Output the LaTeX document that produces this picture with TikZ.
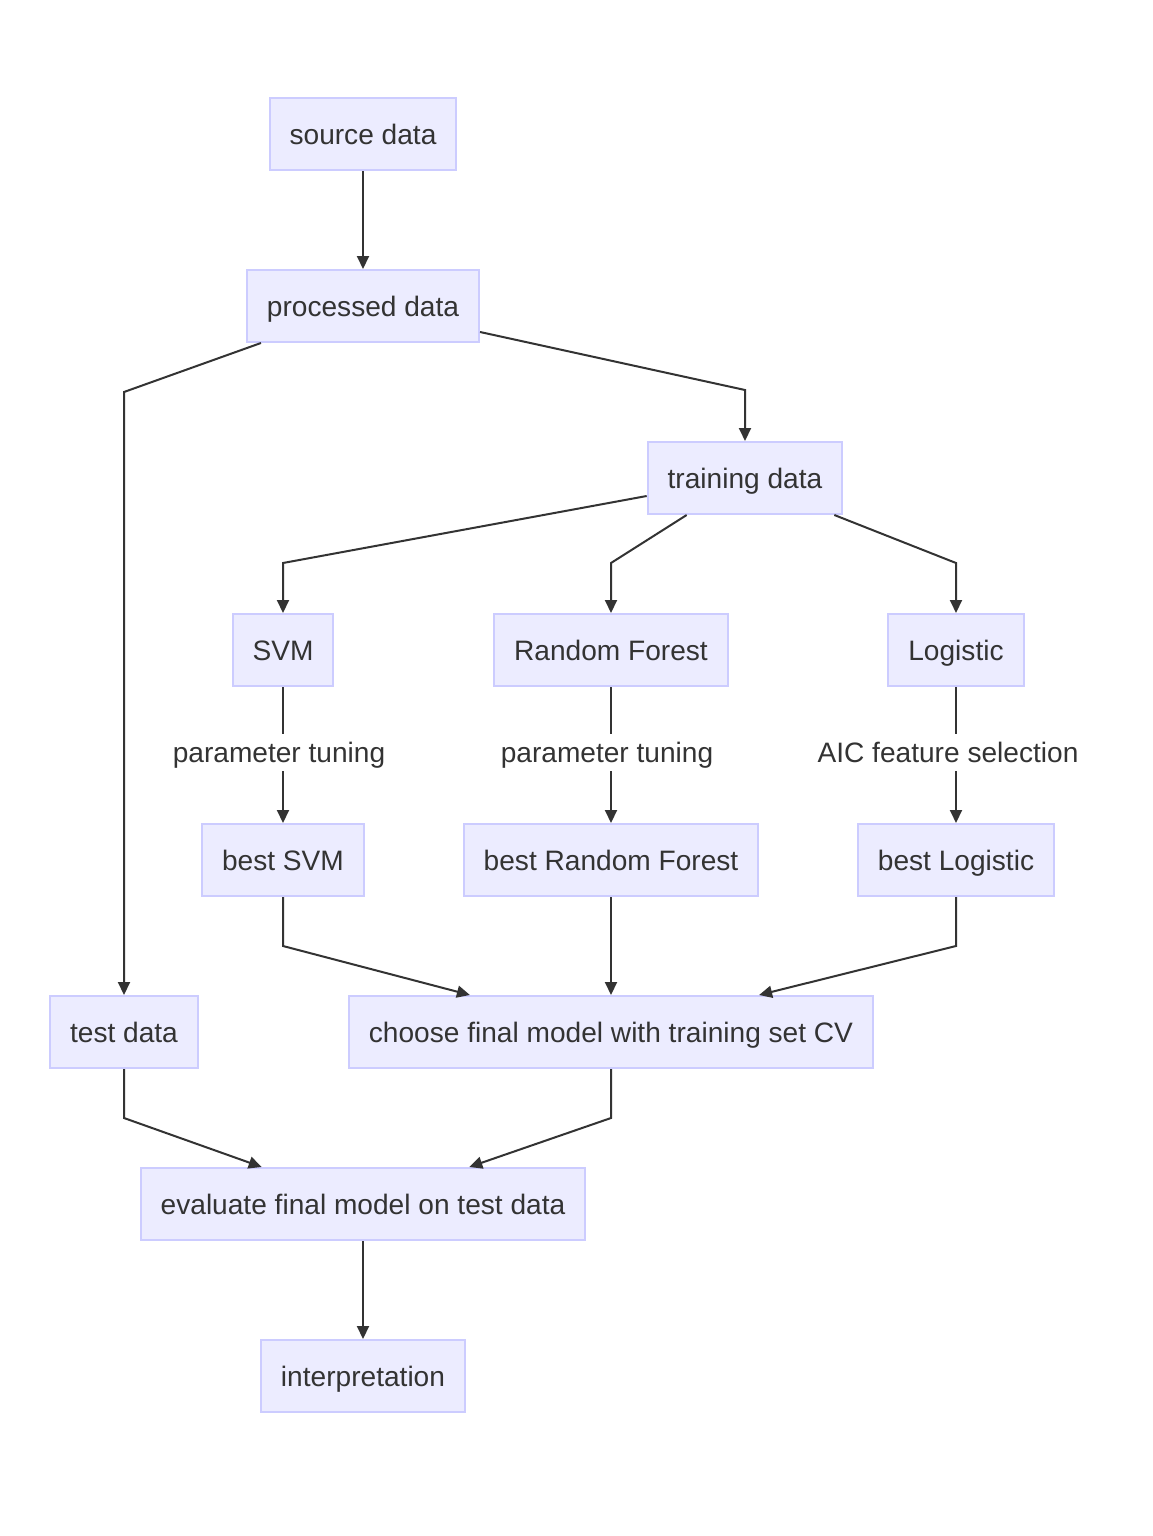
\documentclass[tikz,border=0pt]{standalone}
\usepackage{fontspec}
\setmainfont{Liberation Sans}
\usetikzlibrary{arrows.meta,calc}
\definecolor{nodefill}{HTML}{ECECFF}
\definecolor{nodeborder}{HTML}{CCCCFF}
\definecolor{ink}{HTML}{333333}
\tikzset{
  box/.style={draw=nodeborder, fill=nodefill, line width=2pt, text=ink,
    minimum height=72pt, inner xsep=20pt, inner ysep=0pt,
    text height=21pt, text depth=0pt,
    font=\fontsize{28.1}{33}\selectfont},
  lbl/.style={fill=white, text=ink, inner xsep=2pt, inner ysep=8pt,
    text height=21pt, text depth=0pt, yshift=3pt,
    font=\fontsize{28.1}{33}\selectfont},
  conn/.style={draw=ink, line width=2pt, -{Triangle[length=13pt,width=12pt]}},
}
\begin{document}
\begin{tikzpicture}[x=1pt,y=-1pt]
\useasboundingbox (0,0) rectangle (1152,1536);
\node[box] (src) at (363,134) {source data};
\node[box] (proc) at (363,306) {processed data};
\node[box] (train) at (745,478) {training data};
\node[box] (svm) at (283,650) {SVM};
\node[box] (rf) at (611,650) {Random Forest};
\node[box] (log) at (956,650) {Logistic};
\node[box] (bsvm) at (283,860) {best SVM};
\node[box] (brf) at (611,860) {best Random Forest};
\node[box] (blog) at (956,860) {best Logistic};
\node[box] (test) at (124,1032) {test data};
\node[box] (choose) at (611,1032) {choose final model with training set CV};
\node[box] (eval) at (363,1204) {evaluate final model on test data};
\node[box] (interp) at (363,1376) {interpretation};

\draw[conn] (src) -- (proc);
\draw[conn] ($(proc.south west)+(15,0)$) -- (124,392) -- (test.north);
\draw[conn] ($(proc.east)+(0,26)$) -- (745,390) -- (train.north);
\draw[conn] ($(train.west)+(0,18)$) -- (283,563) -- (svm.north);
\draw[conn] ($(train.south west)+(40,0)$) -- (611,563) -- (rf.north);
\draw[conn] ($(train.south east)+(-9,0)$) -- (956,563) -- (log.north);
\draw[conn] (svm) -- node[lbl, xshift=-4pt] {parameter tuning} (bsvm);
\draw[conn] (rf) -- node[lbl, xshift=-4pt] {parameter tuning} (brf);
\draw[conn] (log) -- node[lbl, xshift=-8pt] {AIC feature selection} (blog);
\draw[conn] (bsvm.south) -- (283,946) -- ($(choose.north west)+(122,0)$);
\draw[conn] (brf) -- (choose);
\draw[conn] (blog.south) -- (956,946) -- ($(choose.north east)+(-115,0)$);
\draw[conn] (test.south) -- (124,1118) -- ($(eval.north west)+(122,0)$);
\draw[conn] (choose.south) -- (611,1118) -- ($(eval.north east)+(-117,0)$);
\draw[conn] (eval) -- (interp);
\end{tikzpicture}
\end{document}
